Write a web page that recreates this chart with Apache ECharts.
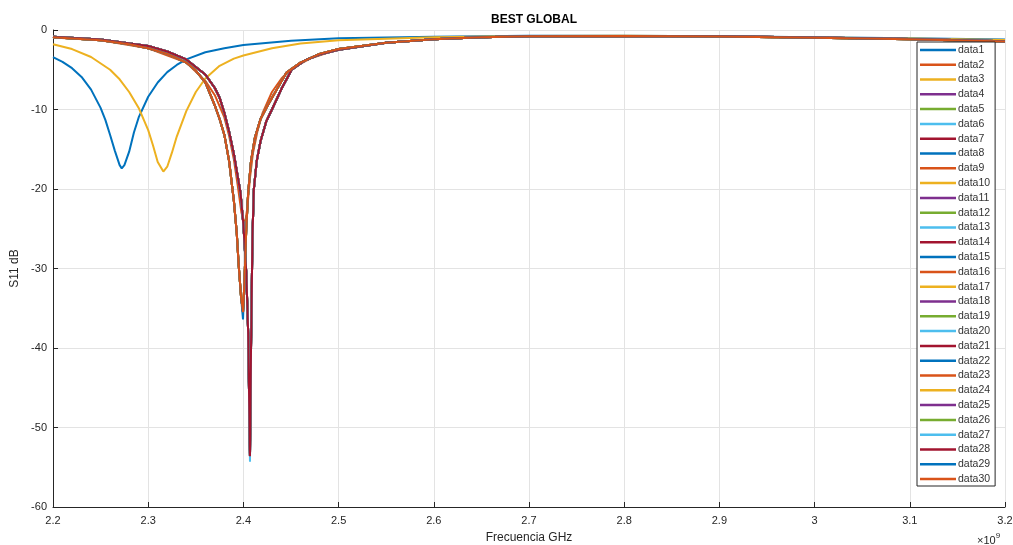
<!DOCTYPE html>
<html>
<head>
<meta charset="utf-8">
<script src="https://cdn.jsdelivr.net/npm/echarts@6/dist/echarts.min.js"></script>
<style>
html,body{margin:0;padding:0;background:#fff;}
#chart{width:1013px;height:545px;}
</style>
</head>
<body>
<div id="chart"></div>
<script>
// ---- Data (frequency in GHz, S11 in dB) ----
const freqA = [2.20,2.21,2.22,2.23,2.24,2.25,2.255,2.26,2.265,2.27,2.2722,2.275,2.28,2.285,2.29,2.30,2.31,2.32,2.33,2.34,2.36,2.38,2.40,2.45,2.50,2.60,2.70,2.80,2.90,3.00,3.10,3.20];
const s11A  = [-3.4,-4.0,-4.8,-5.9,-7.5,-9.8,-11.3,-13.2,-15.2,-17.0,-17.4,-17.0,-15.3,-12.9,-11.0,-8.4,-6.6,-5.3,-4.4,-3.7,-2.8,-2.3,-1.9,-1.35,-1.05,-0.85,-0.72,-0.72,-0.8,-0.92,-1.05,-1.2];

const freqB = [2.20,2.22,2.24,2.26,2.27,2.28,2.29,2.30,2.305,2.31,2.3159,2.32,2.325,2.33,2.34,2.35,2.36,2.375,2.39,2.40,2.43,2.46,2.50,2.60,2.70,2.80,2.90,3.00,3.10,3.20];
const s11B  = [-1.8,-2.4,-3.4,-5.0,-6.2,-7.8,-9.8,-12.6,-14.5,-16.6,-17.8,-17.2,-15.4,-13.4,-10.2,-7.8,-6.1,-4.5,-3.6,-3.2,-2.3,-1.7,-1.3,-0.92,-0.75,-0.73,-0.8,-0.93,-1.08,-1.25];

const freqC = [2.20,2.25,2.28,2.30,2.32,2.34,2.35,2.36,2.37,2.375,2.38,2.385,2.388,2.39,2.393,2.395,2.3975,2.3996,2.401,2.403,2.405,2.408,2.412,2.418,2.425,2.435,2.445,2.46,2.48,2.50,2.55,2.60,2.65,2.70,2.80,2.90,3.00,3.10,3.20];
const s11C  = [-0.9,-1.3,-1.8,-2.3,-3.0,-4.1,-5.1,-6.6,-9.5,-11.2,-13.2,-16.5,-19.5,-21.5,-25.5,-29.5,-33.5,-35.5,-32.0,-25.0,-20.5,-16.5,-13.6,-11.2,-9.6,-7.5,-5.4,-4.1,-3.0,-2.4,-1.6,-1.15,-0.9,-0.78,-0.75,-0.82,-0.97,-1.15,-1.45];
const s11C2 = [-0.9,-1.3,-1.8,-2.3,-3.0,-4.1,-5.1,-6.6,-9.5,-11.2,-13.2,-16.5,-19.5,-21.5,-25.5,-29.5,-33.5,-36.4,-32.0,-25.0,-20.5,-16.5,-13.6,-11.2,-9.6,-7.5,-5.4,-4.1,-3.0,-2.4,-1.6,-1.15,-0.9,-0.78,-0.75,-0.82,-0.97,-1.15,-1.45];

const freqD = [2.20,2.25,2.30,2.34,2.36,2.37,2.38,2.385,2.39,2.394,2.398,2.4015,2.404,2.407,2.41,2.415,2.42,2.43,2.44,2.45,2.47,2.50,2.55,2.60,2.65,2.70,2.80,2.90,3.00,3.10,3.20];
const s11D  = [-0.95,-1.3,-2.3,-4.1,-6.4,-8.2,-11.0,-13.3,-16.3,-19.5,-23.0,-24.5,-22.5,-18.5,-15.5,-12.6,-10.5,-7.8,-6.1,-4.9,-3.6,-2.4,-1.6,-1.15,-0.92,-0.78,-0.75,-0.82,-0.98,-1.17,-1.48];

const freqE = [2.20,2.25,2.30,2.32,2.34,2.36,2.37,2.375,2.38,2.385,2.39,2.394,2.397,2.400,2.403,2.405,2.4069,2.408,2.4095,2.411,2.414,2.418,2.424,2.43,2.44,2.4507,2.465,2.48,2.50,2.55,2.60,2.65,2.70,2.80,2.90,3.00,3.10,3.20];
const s11E  = [-0.85,-1.2,-2.0,-2.7,-3.7,-5.6,-7.3,-8.5,-10.4,-12.8,-15.6,-18.4,-20.5,-24.5,-30.5,-38,-53.6,-40,-26,-20,-16.5,-14,-11.5,-10,-7.4,-5.0,-3.8,-3.1,-2.5,-1.6,-1.15,-0.92,-0.78,-0.74,-0.8,-0.95,-1.12,-1.4];
const s11E2 = [-0.85,-1.2,-2.0,-2.7,-3.7,-5.6,-7.3,-8.5,-10.4,-12.8,-15.6,-18.4,-20.5,-24.5,-30.5,-38,-54.3,-40,-26,-20,-16.5,-14,-11.5,-10,-7.4,-5.0,-3.8,-3.1,-2.5,-1.6,-1.15,-0.92,-0.78,-0.74,-0.8,-0.95,-1.12,-1.4];

// which measured curve each legend entry (data1..data30) holds
const seriesCurve = ['A','D','B','E','E','E','E','C','C','C','E','E','E','E','C','C','C','E','E','E','E','C','C','C','E','E','E2','E','C2','C'];
const seriesNames = seriesCurve.map((_, i) => 'data' + (i + 1));

const xTicks = [2.2,2.3,2.4,2.5,2.6,2.7,2.8,2.9,3.0,3.1,3.2];
const yTicks = [-60,-50,-40,-30,-20,-10,0];

const palette = ['#0072BD','#D95319','#EDB120','#7E2F8E','#77AC30','#4DBEEE','#A2142F'];

const curves = {
  A: [freqA, s11A], B: [freqB, s11B], C: [freqC, s11C], C2: [freqC, s11C2],
  D: [freqD, s11D], E: [freqE, s11E], E2: [freqE, s11E2]
};

const FONT = 'Liberation Sans, Arial, Helvetica, sans-serif';
const TXT = '#262626';

const series = seriesCurve.map((key, i) => {
  const [f, s] = curves[key];
  return {
    name: seriesNames[i],
    type: 'line',
    showSymbol: false,
    symbol: 'none',
    animation: false,
    data: f.map((x, k) => [x, s[k]]),
    lineStyle: { width: 2, color: palette[i % 7] },
    itemStyle: { color: palette[i % 7] },
    emphasis: { disabled: true }
  };
});

const chart = echarts.init(document.getElementById('chart'), null, { renderer: 'canvas' });
chart.setOption({
  animation: false,
  backgroundColor: '#fff',
  color: palette,
  title: {
    text: 'BEST GLOBAL',
    left: 529, top: 9, textAlign: 'center',
    textStyle: { fontFamily: FONT, fontSize: 12, fontWeight: 'bold', color: '#000' }
  },
  grid: { left: 53, right: 8, top: 30, bottom: 38, containLabel: false, outerBoundsMode: 'none' },
  xAxis: {
    type: 'value', min: 2.2, max: 3.2, interval: 0.1,
    name: 'Frecuencia GHz', nameLocation: 'middle', nameGap: 25,
    nameTextStyle: { fontFamily: FONT, fontSize: 12, color: TXT },
    axisLine: { onZero: false, lineStyle: { color: TXT, width: 1 } },
    axisTick: { inside: true, length: 5, lineStyle: { color: TXT } },
    axisLabel: { fontFamily: FONT, fontSize: 11, color: TXT, margin: 8,
      formatter: v => String(+v.toFixed(1)) },
    splitLine: { show: true, lineStyle: { color: '#e3e3e3', width: 1 } }
  },
  yAxis: {
    type: 'value', min: -60, max: 0, interval: 10,
    name: 'S11 dB', nameLocation: 'middle', nameGap: 29,
    nameTextStyle: { fontFamily: FONT, fontSize: 12, color: TXT },
    axisLine: { show: true, lineStyle: { color: TXT, width: 1 } },
    axisTick: { show: true, inside: true, length: 5, lineStyle: { color: TXT } },
    axisLabel: { fontFamily: FONT, fontSize: 11, color: TXT, margin: 6 },
    splitLine: { show: true, lineStyle: { color: '#e3e3e3', width: 1 } }
  },
  legend: {
    orient: 'vertical',
    left: 917, top: 42,
    data: seriesNames,
    icon: 'rect',
    itemWidth: 36, itemHeight: 2.5, itemGap: 3,
    padding: [2, 5, 1, 3],
    borderColor: TXT, borderWidth: 1,
    backgroundColor: '#fff',
    selectedMode: false,
    textStyle: { fontFamily: FONT, fontSize: 10.5, color: '#333', lineHeight: 11.8, padding: [0, 0, 0, -3] }
  },
  graphic: [{
    type: 'text', left: 977, top: 532,
    style: {
      text: '{a|×10}{b|9}',
      rich: {
        a: { fontFamily: FONT, fontSize: 11, fill: TXT, verticalAlign: 'bottom' },
        b: { fontFamily: FONT, fontSize: 8, fill: TXT, verticalAlign: 'top', padding: [0,0,6,0] }
      }
    }
  }],
  series: series
});
</script>
</body>
</html>
